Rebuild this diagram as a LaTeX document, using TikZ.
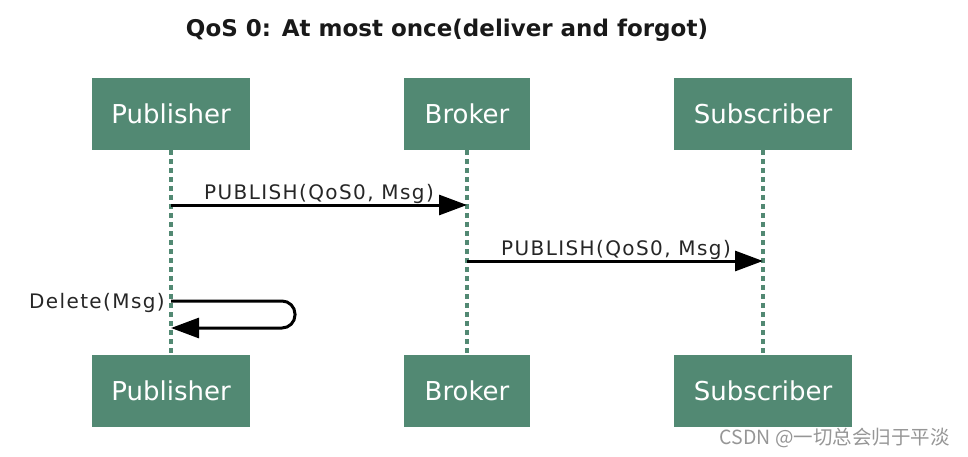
\documentclass[tikz,border=0pt]{standalone}
\usepackage{fontspec}
\setmainfont{DejaVu Sans}
\newfontfamily\cjkfont{Noto Sans CJK SC}
\usetikzlibrary{arrows.meta}
\definecolor{boxgreen}{RGB}{82,137,115}
\definecolor{wmgray}{RGB}{150,150,150}
\tikzset{
  actor/.style={fill=boxgreen, draw=none, minimum height=72pt, text=white, font=\fontsize{26}{30}\selectfont, inner sep=0pt},
  lifeline/.style={draw=boxgreen, line width=4pt, dash pattern=on 5pt off 4pt},
  msg/.style={draw=black, line width=3pt, -{Triangle[length=28pt,width=20pt]}},
  msglabel/.style={font=\fontsize{20}{23}\selectfont\addfontfeature{LetterSpace=7}, text=black!85, inner sep=0pt, anchor=base}
}
\begin{document}
\begin{tikzpicture}[x=1pt,y=-1pt]
\useasboundingbox (0,0) rectangle (968,457);
\node[font=\fontsize{23}{27}\selectfont\bfseries, text=black!90, inner sep=0pt] (title) at (447,30) {QoS 0: At most once(deliver and forgot)};
% top actors
\node[actor, minimum width=158pt] (pubT) at (171,114) {Publisher};
\node[actor, minimum width=126pt] (broT) at (467,114) {Broker};
\node[actor, minimum width=178pt] (subT) at (763,114) {Subscriber};
% bottom actors
\node[actor, minimum width=158pt] (pubB) at (171,391) {Publisher};
\node[actor, minimum width=126pt] (broB) at (467,391) {Broker};
\node[actor, minimum width=178pt] (subB) at (763,391) {Subscriber};
% lifelines
\draw[lifeline] (pubT.south) -- (pubB.north);
\draw[lifeline] (broT.south) -- (broB.north);
\draw[lifeline] (subT.south) -- (subB.north);
% messages
\coordinate (m1s) at (pubT.south |- 0,205);
\coordinate (m1e) at (broT.south |- 0,205);
\draw[msg] (m1s) -- (m1e);
\node[msglabel] (l1) at (319,199) {PUBLISH(QoS0, Msg)};
\coordinate (m2s) at (broT.south |- 0,261);
\coordinate (m2e) at (subT.south |- 0,261);
\draw[msg] (m2s) -- (m2e);
\node[msglabel] (l2) at (616,255) {PUBLISH(QoS0, Msg)};
% self message
\coordinate (s1) at (pubT.south |- 0,301);
\coordinate (s2) at (295,301);
\coordinate (s3) at (295,328);
\coordinate (s4) at (pubT.south |- 0,328);
\draw[msg, rounded corners=13pt] (s1) -- (s2) -- (s3) -- (s4);
\node[msglabel, anchor=base east] (l3) at (165,308) {Delete(Msg)};
% watermark
\node[font=\cjkfont\fontsize{19.5}{22}\selectfont, text=wmgray, anchor=base east, inner sep=0pt] (wm) at (950,444) {CSDN @一切总会归于平淡};
\end{tikzpicture}
\end{document}
